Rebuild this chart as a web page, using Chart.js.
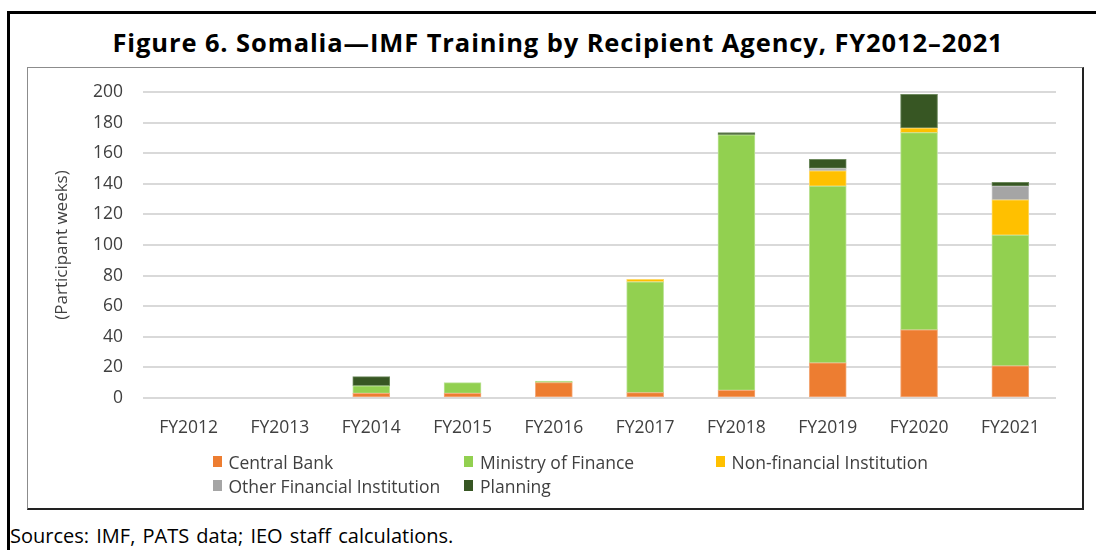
<!DOCTYPE html>
<html>
<head>
<meta charset="utf-8">
<script src="https://cdn.jsdelivr.net/npm/chart.js@4"></script>
<style>
  html, body { margin: 0; padding: 0; background: #fff; width: 1096px; height: 550px; overflow: hidden; font-family: "Open Sans", sans-serif; }
  #outer { position: absolute; left: 7px; top: 11px; width: 1200px; height: 700px; border: 3px solid #000; box-sizing: border-box; }
  #title { position: absolute; left: 0; top: 27px; width: 1116px; text-align: center; font-weight: bold; font-size: 25.5px; letter-spacing: 0.9px; color: #000; line-height: 30px; }
  #inner { position: absolute; left: 27px; top: 67px; width: 1057px; height: 443px; border-left: 1px solid #8c8c8c; border-top: 1px solid #8c8c8c; border-right: 2px solid #222; border-bottom: 2px solid #222; box-sizing: border-box; }
  #wrap { position: absolute; left: 27px; top: 67px; width: 1057px; height: 385px; }
  .lg { position: absolute; font-size: 17.5px; color: #404040; line-height: 22px; white-space: nowrap; }
  .lg i { position: absolute; left: 0; top: 5px; width: 9px; height: 11px; }
  .lg span { position: absolute; left: 16px; top: 0; }
  #src { position: absolute; left: 10px; top: 524px; font-size: 20px; word-spacing: 2px; color: #000; line-height: 24px; white-space: nowrap; }
</style>
</head>
<body>
<div id="outer"></div>
<div id="title">Figure 6. Somalia—IMF Training by Recipient Agency, FY2012–2021</div>
<div id="inner"></div>
<div id="wrap"><canvas id="c"></canvas></div>
<div id="legend"></div>
<div id="src">Sources: IMF, PATS data; IEO staff calculations.</div>
<script>
const categories = ["FY2012","FY2013","FY2014","FY2015","FY2016","FY2017","FY2018","FY2019","FY2020","FY2021"];
const centralBank = [0, 0, 3, 3, 10, 3.5, 5, 23, 44.5, 21];
const ministryOfFinance = [0, 0, 5, 7, 1, 72.5, 167, 115.5, 129, 85.5];
const nonFinancial = [0, 0, 0, 0, 0, 1.5, 0, 10, 3, 23];
const otherFinancial = [0, 0, 0, 0, 0, 0, 0, 1.5, 0, 9];
const planning = [0, 0, 6, 0, 0, 0, 1.5, 6, 22, 2.5];
const yTicks = [0, 20, 40, 60, 80, 100, 120, 140, 160, 180, 200];
const yTitle = "(Participant weeks)";

const seriesNames = ["Central Bank", "Ministry of Finance", "Non-financial Institution", "Other Financial Institution", "Planning"];
const seriesData = [centralBank, ministryOfFinance, nonFinancial, otherFinancial, planning];
const seriesColors = ["#ED7D31", "#92D050", "#FFC000", "#A5A5A5", "#375623"];
const seriesBorders = ["#F4AA7A", "#BEE39A", "#FFD966", "#C9C9C9", "#6E8A5E"];

const datasets = seriesNames.map((n, i) => ({
  label: n,
  data: seriesData[i],
  backgroundColor: seriesColors[i],
  borderColor: seriesBorders[i],
  borderWidth: 1,
  borderSkipped: false,
  barThickness: 37
}));

const chart = new Chart(document.getElementById('c'), {
  type: 'bar',
  data: { labels: categories, datasets },
  options: {
    responsive: true,
    maintainAspectRatio: false,
    animation: false,
    layout: { padding: { left: 0, right: 28, top: 25, bottom: 0 } },
    plugins: { legend: { display: false }, tooltip: { enabled: false } },
    scales: {
      x: {
        stacked: true,
        grid: { display: false, drawTicks: false },
        border: { display: false },
        ticks: { color: '#404040', font: { family: 'Open Sans', size: 17.5 }, padding: 20, maxRotation: 0 },
        afterFit: s => { s.height = 54; s.paddingLeft = 0; s.paddingRight = 0; }
      },
      y: {
        stacked: true,
        min: 0, max: 200,
        afterBuildTicks: s => { s.ticks = yTicks.map(v => ({ value: v })); },
        grid: { color: '#D9D9D9', lineWidth: 2, drawTicks: false },
        border: { display: false },
        ticks: { color: '#404040', font: { family: 'Open Sans', size: 17.5 }, padding: 20 },
        title: { display: true, text: yTitle, color: '#404040', font: { family: 'Open Sans', size: 17 }, padding: { top: 25, bottom: 0 } },
        afterFit: s => { s.width = 116; s.paddingTop = 0; s.paddingBottom = 0; }
      }
    }
  }
});

const cols = [212.5, 464, 715.5];
const rows = [451, 475];
const lg = document.getElementById('legend');
chart.data.datasets.forEach((d, i) => {
  const el = document.createElement('div');
  el.className = 'lg';
  el.style.left = cols[i % 3] + 'px';
  el.style.top = rows[Math.floor(i / 3)] + 'px';
  el.innerHTML = '<i style="background:' + d.backgroundColor + '"></i><span>' + d.label + '</span>';
  lg.appendChild(el);
});
</script>
</body>
</html>
